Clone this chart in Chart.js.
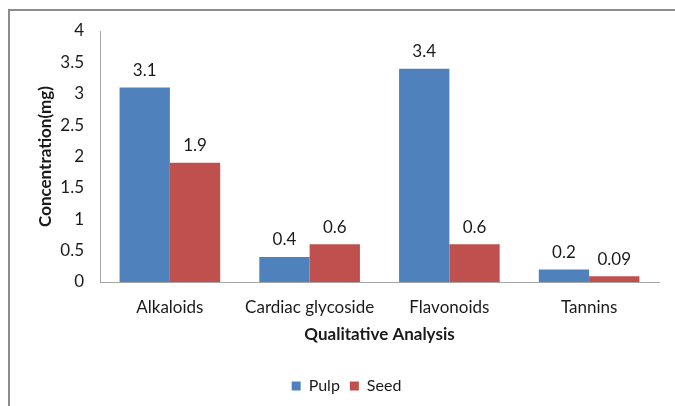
<!DOCTYPE html>
<html>
<head>
<meta charset="utf-8">
<script src="https://cdn.jsdelivr.net/npm/chart.js@4.4.0/dist/chart.umd.min.js"></script>
<style>
  html, body { margin: 0; padding: 0; background: #fff; overflow: hidden; }
  #wrap { position: relative; width: 675px; height: 406px; }
  /* outer chart frame, only left and top edges show in the picture */
  #frame { position: absolute; left: 8px; top: 9px; width: 700px; height: 420px;
           border-left: 2px solid #8c8c8c; border-top: 2px solid #8c8c8c; pointer-events: none; }
  canvas { position: absolute; left: 0; top: 0; }
</style>
</head>
<body>
<div id="wrap">
  <canvas id="chart" width="675" height="406"></canvas>
  <div id="frame"></div>
</div>
<script>
// 데이터
const categories = ['Alkaloids', 'Cardiac glycoside', 'Flavonoids', 'Tannins'];
const pulpValues = [3.1, 0.4, 3.4, 0.2];
const seedValues = [1.9, 0.6, 0.6, 0.09];
const yTicks = [0, 0.5, 1, 1.5, 2, 2.5, 3, 3.5, 4];

const FONT = 'Lato, "Liberation Sans", sans-serif';
const TEXT = '#1a1a1a';

/**
 * 막대 위에 값 라벨을 그리는 플러그인 + 범례 위치 보정
 */
const valueLabels = {
    id: 'valueLabels',
    beforeDraw(chart) {
        // 원본처럼 범례를 약간 오른쪽으로
        if (!chart.$legendShifted) {
            chart.legend.left += 13;
            chart.legend.right += 13;
            chart.$legendShifted = true;
        }
    },
    afterDatasetsDraw(chart) {
        const ctx = chart.ctx;
        ctx.save();
        ctx.font = '17px ' + FONT;
        ctx.fillStyle = TEXT;
        ctx.textAlign = 'center';
        ctx.textBaseline = 'middle';
        chart.data.datasets.forEach((ds, i) => {
            chart.getDatasetMeta(i).data.forEach((bar, j) => {
                ctx.fillText(String(ds.data[j]), bar.x, bar.y - 17);
            });
        });
        ctx.restore();
    }
};

new Chart(document.getElementById('chart'), {
    type: 'bar',
    data: {
        labels: categories,
        datasets: [
            { label: 'Pulp', data: pulpValues, backgroundColor: '#4F81BD' },
            { label: 'Seed', data: seedValues, backgroundColor: '#C0504D' }
        ]
    },
    options: {
        responsive: false,
        animation: false,
        devicePixelRatio: 1,
        layout: { padding: { left: 8, top: 31, right: 16, bottom: 2 } },
        datasets: { bar: { categoryPercentage: 0.72, barPercentage: 1.0 } },
        plugins: {
            tooltip: { enabled: false },
            legend: {
                position: 'bottom',
                labels: {
                    font: { family: FONT, size: 16 },
                    color: TEXT,
                    boxWidth: 9,
                    boxHeight: 9,
                    padding: 10
                }
            }
        },
        scales: {
            x: {
                grid: { display: false, drawTicks: false },
                border: { display: true, color: '#a6a6a6', width: 1 },
                ticks: { font: { family: FONT, size: 17 }, color: TEXT, padding: 15 },
                title: {
                    display: true,
                    text: 'Qualitative Analysis',
                    font: { family: FONT, size: 17, weight: 'bold' },
                    color: TEXT,
                    padding: { top: 0, bottom: 23 }
                },
                afterFit(scale) { scale.height = 86; }
            },
            y: {
                min: 0,
                max: 4,
                grid: { display: false, drawTicks: false },
                border: { display: true, color: '#a6a6a6', width: 1 },
                afterBuildTicks(scale) { scale.ticks = yTicks.map(v => ({ value: v })); },
                ticks: {
                    font: { family: FONT, size: 17 },
                    color: TEXT,
                    padding: 16,
                    callback: v => String(v)
                },
                title: {
                    display: true,
                    text: 'Concentration(mg)',
                    font: { family: FONT, size: 17, weight: 'bold' },
                    color: TEXT,
                    padding: { top: 27, bottom: 0 }
                },
                afterFit(scale) { scale.width = 92; }
            }
        }
    },
    plugins: [valueLabels]
});
</script>
</body>
</html>
